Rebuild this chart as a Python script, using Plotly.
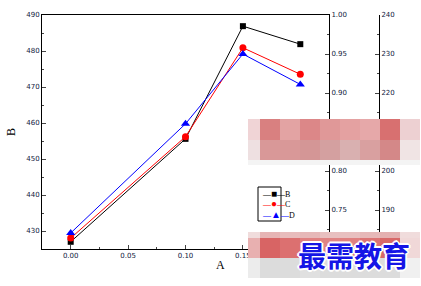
import plotly.graph_objects as go

# ---- data ----
x_vals = [0.00, 0.10, 0.15, 0.20]
b_vals = [427.0, 455.6, 486.9, 481.9]
c_vals = [0.714, 0.844, 0.958, 0.924]
d_vals = [184.1, 212.1, 230.0, 222.2]
x_ticks = [0.00, 0.05, 0.10, 0.15]
series_names = ["B", "C", "D"]
series_colors = ["black", "#ff0000", "#0000ff"]
legend_glyphs = ["■", "●", "▲"]

W, H = 421, 286
ML, MR, MT, MB = 42, 0, 15, 37
PW, PH = W - ML - MR, H - MT - MB


def px(x):
    return (x - ML) / PW


def py(y):
    return (H - MB - y) / PH


fig = go.Figure()
fig.add_trace(go.Scatter(x=x_vals, y=b_vals, name="B", mode="lines+markers",
                         line=dict(color="black", width=1),
                         marker=dict(symbol="square", size=6, color="black"),
                         yaxis="y"))
fig.add_trace(go.Scatter(x=x_vals, y=c_vals, name="C", mode="lines+markers",
                         line=dict(color="#ff0000", width=1),
                         marker=dict(symbol="circle", size=7, color="#ff0000"),
                         yaxis="y2"))
fig.add_trace(go.Scatter(x=x_vals, y=d_vals, name="D", mode="lines+markers",
                         line=dict(color="#0000ff", width=1),
                         marker=dict(symbol="triangle-up", size=8, color="#0000ff"),
                         yaxis="y3"))

tickfont = dict(family="DejaVu Sans", size=7, color="#102040")
dom_right = px(329)

fig.update_layout(
    width=W, height=H,
    margin=dict(l=ML, r=MR, t=MT, b=MB),
    paper_bgcolor="white", plot_bgcolor="white",
    showlegend=False,
    xaxis=dict(domain=[0, dom_right], range=[-0.025, 0.225],
               tickvals=x_ticks, tickformat=".2f", ticks="inside", ticklen=4,
               minor=dict(dtick=0.025, ticks="inside", ticklen=2, tick0=0),
               showline=True, linecolor="black", linewidth=1, mirror=True,
               showgrid=False, zeroline=False, tickfont=tickfont),
    yaxis=dict(range=[425, 490], dtick=10, tick0=430, ticks="inside", ticklen=4,
               minor=dict(dtick=5, ticks="inside", ticklen=2),
               showline=True, linecolor="black", linewidth=1,
               showgrid=False, zeroline=False, tickfont=tickfont,
               title=dict(text="B", font=dict(family="Liberation Serif", size=12, color="black"),
                          standoff=8)),
    yaxis2=dict(range=[0.70, 1.00], dtick=0.05, tickformat=".2f", ticks="inside", ticklen=4,
                minor=dict(dtick=0.025, ticks="inside", ticklen=2),
                overlaying="y", side="right", anchor="x",
                showline=True, linecolor="black", linewidth=1,
                showgrid=False, zeroline=False, tickfont=tickfont),
    yaxis3=dict(range=[180, 240], dtick=10, ticks="inside", ticklen=4,
                minor=dict(dtick=5, ticks="inside", ticklen=2),
                overlaying="y", side="right", anchor="free", position=px(379),
                showline=True, linecolor="black", linewidth=1,
                showgrid=False, zeroline=False, tickfont=tickfont),
)

fig.add_annotation(text="A", x=px(220), y=py(274), xref="paper", yref="paper",
                   showarrow=False, font=dict(family="Liberation Serif", size=12, color="black"))

shapes = []

# ---- compact legend (Origin style) ----
shapes.append(dict(type="rect", xref="paper", yref="paper",
                   x0=px(258), x1=px(281), y0=py(221), y1=py(187),
                   fillcolor="white", line=dict(color="black", width=1), layer="above"))
legend_lines = [
    f'<span style="color:{c}">—</span><span style="color:{c};font-size:10px">{g}</span>'
    f'<span style="color:{c}">—</span>{n}'
    for n, c, g in zip(series_names, series_colors, legend_glyphs)
]
legend_text = "<br>".join(legend_lines)

# ---- watermark overlay (decoration) ----
wm1_top = ["#f0d4d6", "#d98080", "#e3a3a3", "#dc8788", "#e09898", "#e4a1a1", "#e6a8a9", "#d87070", "#edd0d2"]
wm1_bot = ["#eee0e1", "#d99898", "#d99898", "#d49696", "#d4a0a0", "#d9b0b0", "#d9a0a0", "#d48888", "#f0e4e4"]
wm2_top = ["#f0dcdc", "#e6b4b4", "#e8bcbc", "#e6b8b8", "#e8c0c0", "#e8c0c0", "#e6b8b8", "#e4b0b0", "#f0dcdc"]
wm2_mid = ["#e8b0b0", "#d86464", "#dc7070", "#e08080", "#e08484", "#e08080", "#dc7474", "#d86868", "#f0d8d8"]
wm2_bot = ["#ececec", "#dcdcdc", "#dcdcdc", "#e0e0e0", "#dcdcdc", "#dcdcdc", "#dcdcdc", "#dcdcdc", "#f0f0f0"]
cols = [248, 260, 280, 300, 320, 340, 360, 380, 400, 420]


def band(colors, y0, y1):
    for i, c in enumerate(colors):
        shapes.append(dict(type="rect", xref="paper", yref="paper",
                           x0=px(cols[i]), x1=px(cols[i + 1]), y0=py(y1), y1=py(y0),
                           fillcolor=c, line=dict(width=0), layer="above"))


band(wm1_top, 119, 140)
band(wm1_bot, 140, 160)
band(["#f4f4f4"] * 9, 160, 165)
band(wm2_top, 232, 238)
band(wm2_mid, 238, 258)
band(wm2_bot, 258, 278)
fig.update_layout(shapes=shapes)

fig.add_annotation(text=legend_text, x=px(260), y=py(204), xref="paper", yref="paper",
                   xanchor="left", yanchor="middle", align="left", showarrow=False,
                   font=dict(family="Liberation Serif", size=8, color="black"))

fig.add_annotation(text="最需教育", x=px(296), y=py(255), xref="paper", yref="paper",
                   xanchor="left", yanchor="middle", showarrow=False,
                   font=dict(family="Noto Sans CJK SC", size=28, color="#1515e6", weight="bold",
                             shadow="1px 1px 0 white, -1px -1px 0 white, 1px -1px 0 white, -1px 1px 0 white, 2px 0 0 white, -2px 0 0 white, 0 2px 0 white, 0 -2px 0 white"))

fig.write_html("out.html")
